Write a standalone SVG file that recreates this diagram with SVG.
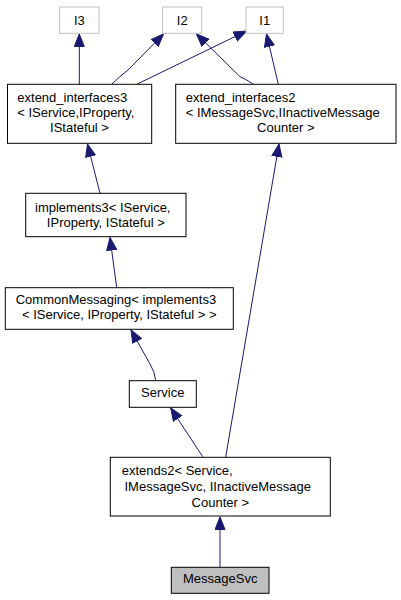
<svg xmlns="http://www.w3.org/2000/svg" width="401" height="600" viewBox="0 0 401 600">
<style>
text{font-family:"Liberation Sans",Arial,sans-serif;font-size:13px;fill:#000}
.c{text-anchor:middle}
.n{fill:#fff;stroke:#000;stroke-width:1}
.g{fill:#fff;stroke:#bfbfbf;stroke-width:1}
.cur{fill:#bfbfbf;stroke:#000;stroke-width:1}
.e{fill:none;stroke:#191970;stroke-width:1;marker-end:url(#a)}
</style>
<defs>
<marker id="a" markerUnits="userSpaceOnUse" markerWidth="14" markerHeight="12" refX="13" refY="5.5" orient="auto">
<path d="M0.5,0.5 L13,5.5 L0.5,10.5 Z" fill="#191970" stroke="#191970"/>
</marker>
</defs>
<rect width="401" height="600" fill="#fff"/>
<g id="connectors">
<path class="e" d="M220,567 L220,517"/>
<path class="e" d="M202.7,456.7 L170.7,408"/>
<path class="e" d="M225.7,457 L279,144"/>
<path class="e" d="M155.7,380.7 Q155,372 150,364 L131,330"/>
<path class="e" d="M116.7,287.7 L110,237.5"/>
<path class="e" d="M100,193.3 L87.5,144"/>
<path class="e" d="M79.3,84.3 L79.3,34"/>
<path class="e" d="M111.7,84.3 Q120,76 128,70 L163.5,34"/>
<path class="e" d="M136.7,84.3 L246.5,31"/>
<path class="e" d="M253.3,84.3 Q246,79 240,76.7 L196.5,34"/>
<path class="e" d="M278.3,84.3 L266.5,34"/>
</g>
<g id="I3"><rect class="g" x="59.5" y="7" width="39.5" height="26.3"/><text class="c" x="79.3" y="25">I3</text></g>
<g id="I2"><rect class="g" x="162.7" y="7" width="39" height="26.3"/><text class="c" x="182.2" y="25">I2</text></g>
<g id="I1"><rect class="g" x="246" y="7" width="37.3" height="26.3"/><text class="c" x="264.7" y="25">I1</text></g>
<g id="extend_interfaces3">
<rect class="n" x="7.5" y="84.3" width="144.2" height="59"/>
<text x="17.3" y="101.7">extend_interfaces3</text>
<text x="17.3" y="116.7">&lt; IService,IProperty,</text>
<text class="c" x="79.5" y="131.7">IStateful &gt;</text>
</g>
<g id="extend_interfaces2">
<rect class="n" x="175.7" y="84.3" width="220.3" height="59"/>
<text x="185.7" y="101.7">extend_interfaces2</text>
<text x="185.7" y="116.7">&lt; IMessageSvc,IInactiveMessage</text>
<text class="c" x="285.8" y="131.7">Counter &gt;</text>
</g>
<g id="implements3">
<rect class="n" x="25.7" y="193.3" width="160.3" height="43.4"/>
<text x="35" y="211.7">implements3&lt; IService,</text>
<text class="c" x="105.8" y="226.7">IProperty, IStateful &gt;</text>
</g>
<g id="CommonMessaging">
<rect class="n" x="5.3" y="287.7" width="228" height="41.6"/>
<text x="15.7" y="304.3">CommonMessaging&lt; implements3</text>
<text class="c" x="119.3" y="319.3">&lt; IService, IProperty, IStateful &gt; &gt;</text>
</g>
<g id="Service">
<rect class="n" x="129.3" y="380.7" width="67" height="26.6"/>
<text class="c" x="162.8" y="396.7">Service</text>
</g>
<g id="extends2">
<rect class="n" x="110.3" y="457.3" width="220" height="58.7"/>
<text x="121.7" y="475">extends2&lt; Service,</text>
<text x="124.5" y="490.7">IMessageSvc, IInactiveMessage</text>
<text class="c" x="220.3" y="506.7">Counter &gt;</text>
</g>
<g id="MessageSvc">
<rect class="cur" x="171.3" y="567.3" width="97.7" height="26"/>
<text class="c" x="220.2" y="583.3">MessageSvc</text>
</g>
</svg>
